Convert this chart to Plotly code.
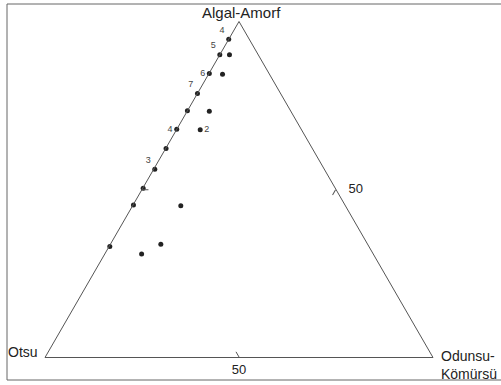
import plotly.graph_objects as go

# Ternary compositions (%): Algal-Amorf (a), Otsu (b), Odunsu-Kömürsü (c)
algal = [94.7, 90.1, 90.1, 84.5, 84.3, 78.6, 73.4, 73.3, 67.9, 67.8, 62.2, 56.0, 50.4, 45.4, 45.2, 33.0, 33.7, 30.8]
otsu = [5.3, 9.9, 7.4, 15.4, 12.1, 21.4, 26.6, 21.0, 32.1, 26.1, 37.7, 43.7, 49.5, 54.5, 42.4, 66.8, 53.3, 59.7]
odunsu = [0.0, 0.0, 2.5, 0.1, 3.6, 0.0, 0.0, 5.7, 0.0, 6.1, 0.1, 0.3, 0.1, 0.1, 12.4, 0.2, 13.0, 9.5]
labels = ["4", "5", "", "6", "", "7", "", "", "4", "2", "", "3", "", "", "", "", "", ""]
label_pos = ["top left", "top left", "middle center", "middle left", "middle center",
             "top left", "middle center", "middle center", "middle left", "middle right",
             "middle center", "top left", "middle center", "middle center", "middle center",
             "middle center", "middle center", "middle center"]

axis_names = {"a": "Algal-Amorf", "b": "Otsu", "c": "Odunsu-<br>Kömürsü"}
tick_values = [50]
tick_text = ["50"]
c_tick_text = ["\u00a0\u00a0\u00a050"]

W, H = 501, 385
line_col = "#555555"
font_fam = "Liberation Sans, Arial, sans-serif"

fig = go.Figure()
fig.add_trace(go.Scatterternary(
    a=algal, b=otsu, c=odunsu,
    mode="markers+text",
    text=labels,
    textposition=label_pos,
    textfont=dict(size=9, color="#444444", family=font_fam),
    marker=dict(size=5, color="#222222"),
    showlegend=False,
    cliponaxis=False,
    hoverinfo="skip",
))

def axis(show_labels, ttext):
    return dict(
        showgrid=False, showline=True, linecolor=line_col, linewidth=1,
        ticks="inside", ticklen=6, tickcolor=line_col, tickwidth=1,
        tickvals=tick_values, ticktext=ttext,
        showticklabels=show_labels,
        tickfont=dict(size=13, color="#222222", family=font_fam),
        title=dict(text=""),
    )

fig.update_layout(
    width=W, height=H,
    margin=dict(l=0, r=0, t=0, b=0),
    paper_bgcolor="white",
    plot_bgcolor="white",
    ternary=dict(
        sum=100,
        bgcolor="white",
        domain=dict(x=[45 / W, 433 / W], y=[27 / H, 364 / H]),
        aaxis=axis(False, tick_text),
        baxis=axis(True, tick_text),
        caxis=axis(True, c_tick_text),
    ),
    shapes=[dict(type="rect", xref="paper", yref="paper",
                 x0=7 / W, x1=1.02, y0=5 / H, y1=381 / H,
                 line=dict(color="#666666", width=1))],
    annotations=[
        dict(text=axis_names["a"], x=241 / W, y=(H - 12) / H, xref="paper", yref="paper",
             yanchor="middle", showarrow=False,
             font=dict(size=15, color="#222222", family=font_fam)),
        dict(text=axis_names["b"], x=6 / W, y=(H - 352) / H, xref="paper", yref="paper",
             xanchor="left", yanchor="middle", showarrow=False,
             font=dict(size=14, color="#222222", family=font_fam)),
        dict(text=axis_names["c"], x=439 / W, y=(H - 365) / H, xref="paper", yref="paper",
             xanchor="left", yanchor="middle", align="left", showarrow=False,
             font=dict(size=14, color="#222222", family=font_fam)),
    ],
)

fig.write_html("out.html", config={"displayModeBar": False},
               post_script="document.body.style.margin='0';")
